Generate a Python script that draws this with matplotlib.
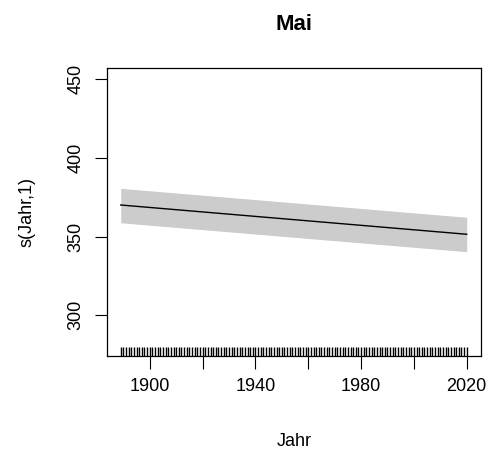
import matplotlib
matplotlib.use('Agg')
from matplotlib import pyplot as plt
import numpy as np

plt.rcParams['font.family'] = ['Liberation Sans', 'DejaVu Sans']

# fitted smooth s(Jahr,1) with confidence band (ends)
jahr = [1889, 2020]
fit = [370.1, 351.5]
upper = [380.7, 362.3]
lower = [358.8, 340.4]

# rug: one observation per year
rug_years = np.arange(1889, 2021)

x_ticks = [1900, 1920, 1940, 1960, 1980, 2000, 2020]
x_labels = ['1900', '', '1940', '', '1980', '', '2020']
y_ticks = [300, 350, 400, 450]

fig = plt.figure(figsize=(4.89, 4.53), dpi=100)
ax = fig.add_axes([0.2188, 0.2141, 0.7648, 0.6358])

ax.fill_between(jahr, lower, upper, color='#cccccc', lw=0)
ax.plot(jahr, fit, color='black', lw=1)

ax.set_xlim(1883.8, 2025.4)
ax.set_ylim(274.1, 457.2)

trans = ax.get_xaxis_transform()
ax.vlines(rug_years, 0, 0.03, transform=trans, color='black', lw=1.0)

ax.set_xticks(x_ticks)
ax.set_xticklabels(x_labels)
ax.set_yticks(y_ticks)
ax.set_yticklabels([str(v) for v in y_ticks], rotation=90, va='center')
ax.tick_params(direction='out', length=9, width=0.8, labelsize=13, pad=7)

for s in ax.spines.values():
    s.set_linewidth(0.9)

ax.set_title('Mai', fontsize=16, fontweight='bold', pad=27)
ax.set_xlabel('Jahr', fontsize=13, labelpad=27)
ax.set_ylabel('s(Jahr,1)', fontsize=13, labelpad=23)

fig.savefig('out.png', dpi=100)
